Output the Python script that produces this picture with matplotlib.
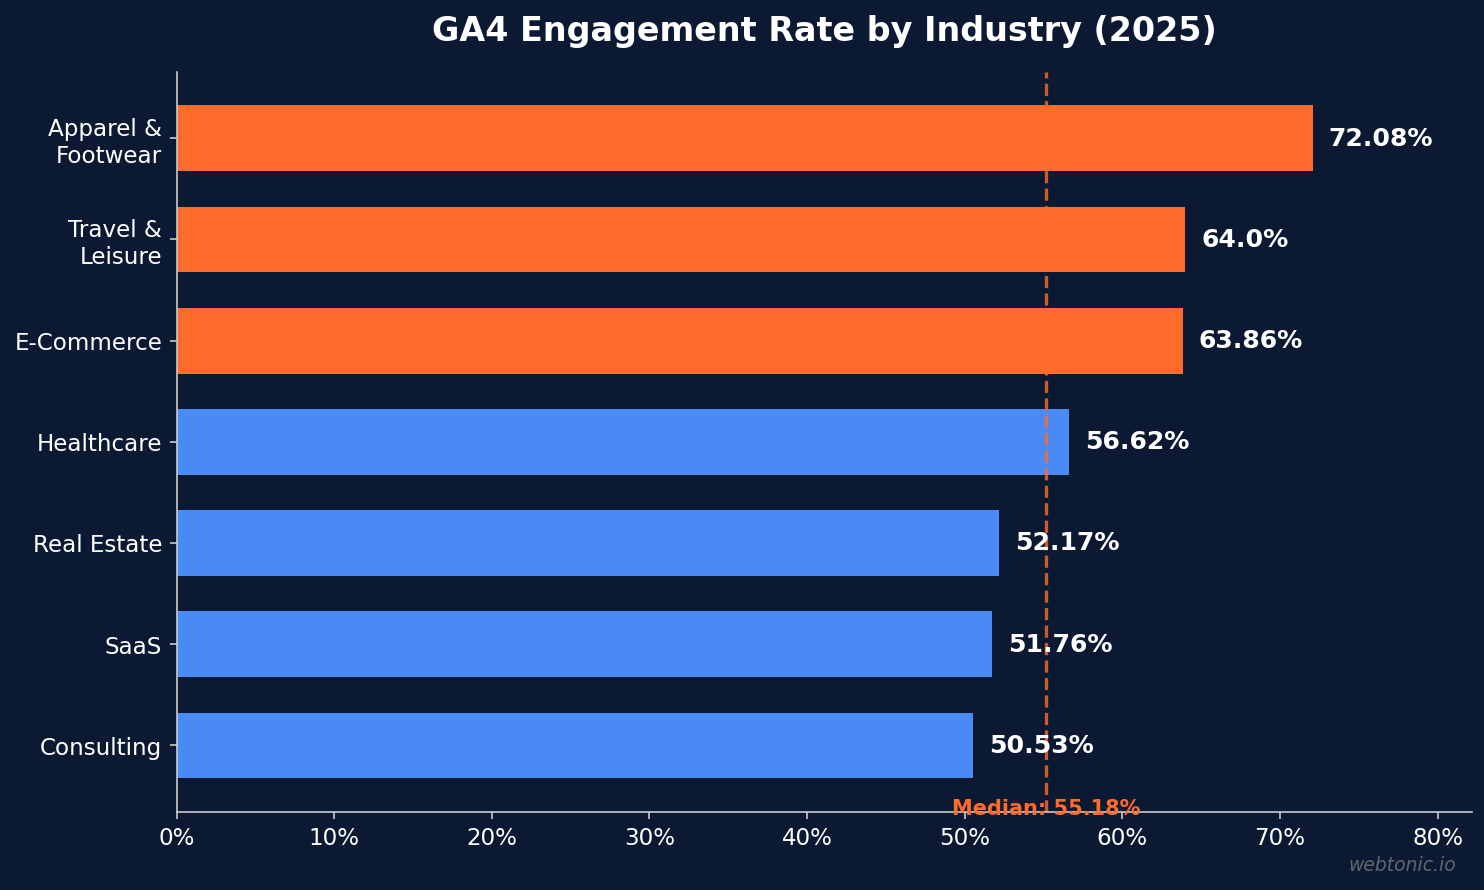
import matplotlib
matplotlib.use("Agg")
import matplotlib.pyplot as plt
import numpy as np

# engagement rate per industry (GA4, 2025)
industries = ["Consulting", "SaaS", "Real Estate", "Healthcare",
              "E-Commerce", "Travel &\nLeisure", "Apparel &\nFootwear"]
rates = [50.53, 51.76, 52.17, 56.62, 63.86, 64.0, 72.08]
median_rate = 55.18

bg = "#0b1a32"
orange = "#ff6b2b"
blue = "#4a8af4"

fig, ax = plt.subplots(figsize=(10, 6), dpi=148.4)
fig.patch.set_facecolor(bg)
ax.set_facecolor(bg)

colors = [orange if r > 60 else blue for r in rates]
y = np.arange(len(industries))
ax.barh(y, rates, height=0.65, color=colors)

# value labels
for yi, r in zip(y, rates):
    ax.text(r + 1.0, yi, f"{r}%", va="center", ha="left",
            color="white", fontsize=12.2, fontweight="bold")

# median reference line
ax.axvline(median_rate, color=orange, linestyle="--", linewidth=1.6, alpha=0.8)
ax.text(median_rate, 0.005, f"Median: {median_rate}%", transform=ax.get_xaxis_transform(),
        ha="center", va="center", color=orange, fontsize=10.15, fontweight="bold")

ax.set_yticks(y)
ax.set_yticklabels(industries)
ax.set_xlim(0, max(rates) * 1.14)
ax.set_xticks(np.arange(0, 81, 10))
ax.set_xticklabels([f"{t}%" for t in range(0, 81, 10)])
ax.tick_params(colors="white", labelsize=11.15)
ax.tick_params(axis="both", color="#cccccc")

for s in ["top", "right"]:
    ax.spines[s].set_visible(False)
for s in ["left", "bottom"]:
    ax.spines[s].set_color("#cccccc")

ax.set_title("GA4 Engagement Rate by Industry (2025)", color="white",
             fontsize=16.2, fontweight="bold", pad=15)

fig.text(0.981, 0.028, "webtonic.io", ha="right", va="center", color="#888888",
         fontsize=9.1, fontstyle="italic", alpha=0.7)

plt.subplots_adjust(left=0.119, right=0.9918, top=0.919, bottom=0.0876)
plt.savefig("out.png", dpi=148.4, facecolor=bg)
